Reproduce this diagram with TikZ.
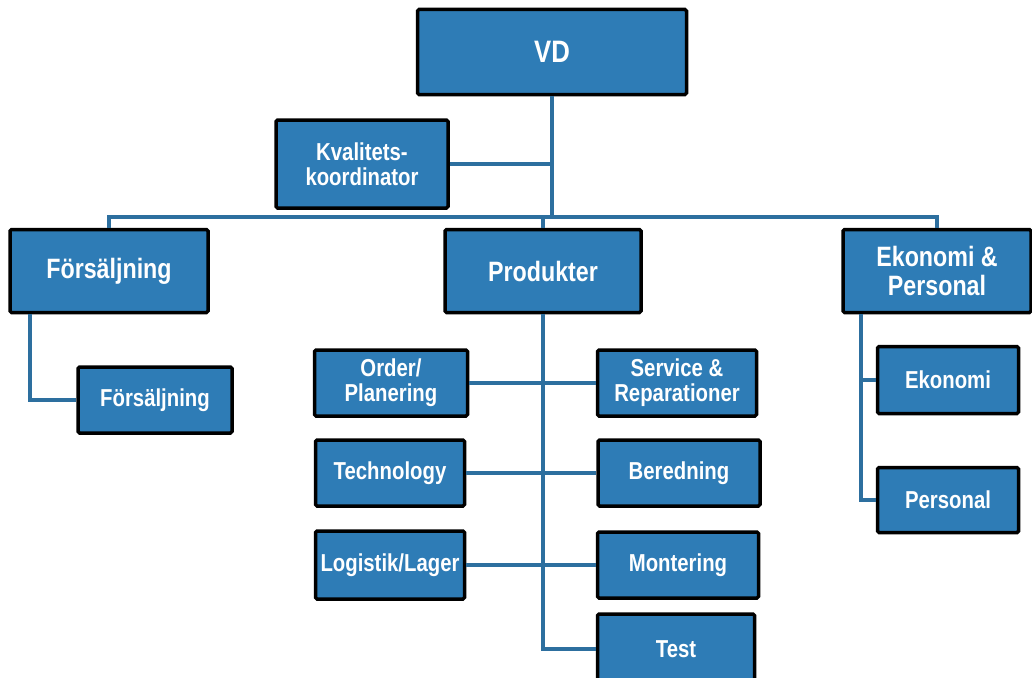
\documentclass[tikz,border=0pt]{standalone}
\usepackage{fontspec}
\setmainfont{Liberation Sans}[FakeStretch=0.83]
\usetikzlibrary{calc}
\definecolor{Box}{HTML}{2E7CB6}
\definecolor{Link}{HTML}{2D6F9F}
\tikzset{
  unit/.style={draw=black,fill=Box,line width=3.5pt,rounded corners=1.5pt,align=center,
    text=white,font=\fontsize{28}{29}\selectfont\bfseries,inner sep=0pt},
  subunit/.style={unit,font=\fontsize{24.5}{25}\selectfont\bfseries},
  link/.style={draw=Link,line width=4pt}
}
\begin{document}
\begin{tikzpicture}[x=1pt,y=-1pt]
        \useasboundingbox (0,0) rectangle (1032,677);
        % top
        \node[unit,minimum width=269pt,minimum height=85pt,font=\fontsize{31}{32}\selectfont\bfseries] (vd) at (552,52) {VD};
        \node[subunit,minimum width=172pt,minimum height=88pt] (kval) at (362,164) {Kvalitets-\\koordinator};
        \coordinate (bus) at (552,217);
        % departments
        \node[unit,minimum width=198pt,minimum height=83pt] (fors) at (109,271) {Försäljning};
        \node[unit,minimum width=196pt,minimum height=83pt] (prod) at (543,271) {Produkter};
        \node[unit,minimum width=188pt,minimum height=83pt] (ekon) at (937,271) {Ekonomi \&\\Personal};
        % Försäljning
        \node[subunit,minimum width=154pt,minimum height=66pt] (fors2) at (155,400) {Försäljning};
        % Produkter
        \node[subunit,minimum width=153pt,minimum height=66pt] (order) at (391,383) {Order/\\Planering};
        \node[subunit,minimum width=159pt,minimum height=66pt] (serv) at (677,383) {Service \&\\Reparationer};
        \node[subunit,minimum width=149pt,minimum height=66pt] (tech) at (390,473) {Technology};
        \node[subunit,minimum width=162pt,minimum height=66pt] (bered) at (679,473) {Beredning};
        \node[subunit,minimum width=149pt,minimum height=68pt] (logi) at (390,565) {Logistik/Lager};
        \node[subunit,minimum width=161pt,minimum height=66pt] (mont) at (678,565) {Montering};
        \node[subunit,minimum width=157pt,minimum height=70pt] (test) at (676,649) {Test};
        % Ekonomi & Personal
        \node[subunit,minimum width=141pt,minimum height=67pt] (ekonomi) at (948,380) {Ekonomi};
        \node[subunit,minimum width=141pt,minimum height=65pt] (personal) at (948,500) {Personal};
        % connectors
        \draw[link] (vd.south) -- (vd.south |- bus);
        \draw[link] (kval.east) -- (kval.east -| vd.south);
        \draw[link] (fors.north) |- (bus) -| (ekon.north);
        \draw[link] (prod.north) -- (prod.north |- bus);
        \draw[link] ($(fors.south west)+(22,0)$) |- (fors2.west);
        \draw[link] (prod.south) |- (test.west);
        \draw[link] (order.east) -- (serv.west);
        \draw[link] (tech.east) -- (bered.west);
        \draw[link] (logi.east) -- (mont.west);
        \coordinate (ektrunk) at ($(ekon.south west)+(20,0)$);
        \draw[link] (ektrunk) |- (personal.west);
        \draw[link] (ekonomi.west) -- (ekonomi.west -| ektrunk);
      \end{tikzpicture}
\end{document}
